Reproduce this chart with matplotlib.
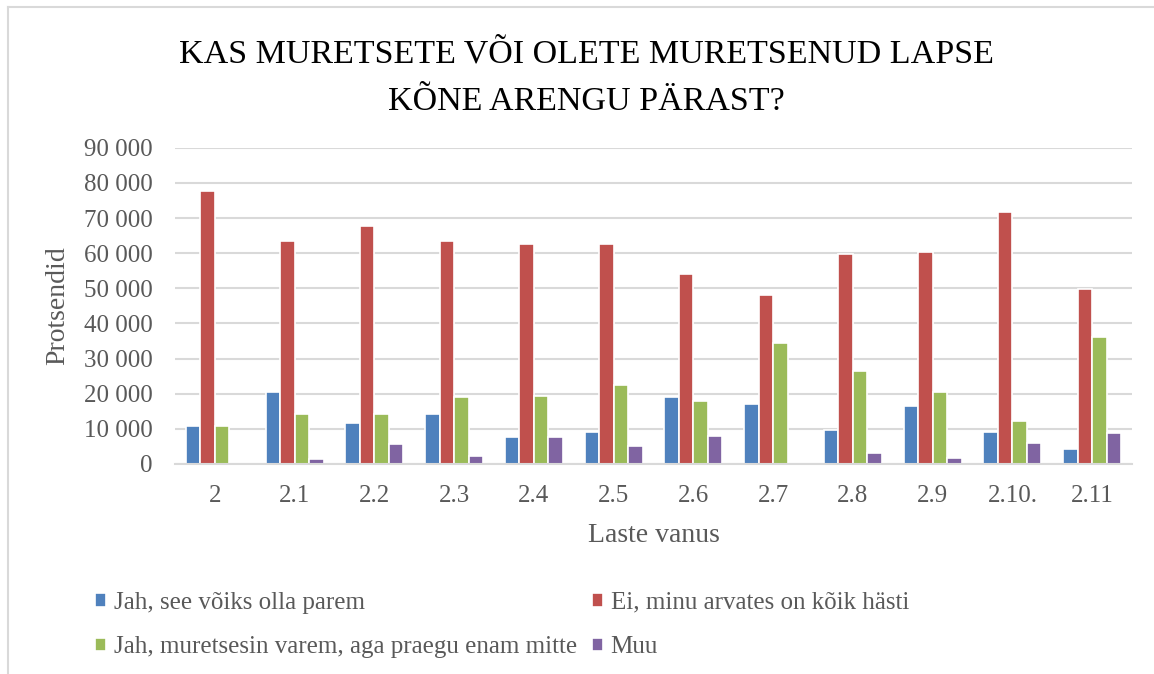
import matplotlib.pyplot as plt
import numpy as np
from matplotlib.lines import Line2D
from matplotlib.ticker import FuncFormatter

plt.rcParams['font.family'] = ['Liberation Serif', 'DejaVu Serif']

categories = ['2', '2.1', '2.2', '2.3', '2.4', '2.5', '2.6', '2.7', '2.8', '2.9', '2.10.', '2.11']
jah_parem = [10900, 20400, 11700, 14100, 7600, 9000, 19200, 17000, 9800, 16500, 9100, 4300]
ei_hasti = [77600, 63400, 67700, 63500, 62700, 62600, 54000, 48100, 59800, 60300, 71800, 49800]
jah_varem = [10900, 14300, 14100, 19200, 19300, 22400, 17800, 34400, 26500, 20600, 12300, 36100]
muu = [0, 1300, 5700, 2400, 7700, 5200, 8100, 0, 3000, 1800, 6100, 8900]

series = [
    ('Jah, see võiks olla parem', jah_parem, '#4F81BD'),
    ('Ei, minu arvates on kõik hästi', ei_hasti, '#C0504D'),
    ('Jah, muretsesin varem, aga praegu enam mitte', jah_varem, '#9BBB59'),
    ('Muu', muu, '#8064A2'),
]

fig = plt.figure(figsize=(11.54, 6.74), dpi=100)
ax = fig.add_axes([0.1516, 0.3116, 0.8294, 0.469])

x = np.arange(len(categories))
step = 0.182
bars = []
for i, (name, vals, col) in enumerate(series):
    b = ax.bar(x + (i - 1.5) * step, vals, width=step, color=col,
               edgecolor='white', linewidth=1.2, label=name, zorder=3)
    bars.append(b)

ax.set_xlim(-0.5, len(categories) - 0.5)
ax.set_ylim(0, 90000)
ax.set_yticks(np.arange(0, 90001, 10000))
ax.yaxis.set_major_formatter(FuncFormatter(lambda v, p: f"{int(v):,}".replace(',', ' ')))
ax.set_xticks(x)
ax.set_xticklabels(categories)
ax.grid(axis='y', color='#D9D9D9', linewidth=1.5, zorder=0)
for s in ['top', 'right', 'left']:
    ax.spines[s].set_visible(False)
ax.spines['bottom'].set_color('#D9D9D9')
ax.spines['bottom'].set_linewidth(1.5)
ax.spines['bottom'].set_zorder(4)
ax.tick_params(axis='both', length=0, labelsize=18, colors='#595959')
ax.tick_params(axis='y', pad=16)
ax.tick_params(axis='x', pad=15)

ax.set_xlabel('Laste vanus', fontsize=20, color='#595959', labelpad=12)
ax.set_ylabel('Protsendid', fontsize=20, color='#595959', labelpad=10)

fig.text(0.508, 0.884, 'KAS MURETSETE VÕI OLETE MURETSENUD LAPSE\nKÕNE ARENGU PÄRAST?',
         ha='center', va='center', fontsize=24.5, color='#000000', linespacing=1.7)

# legend fills column by column, so reorder to get Excel's row order
order = [0, 2, 1, 3]
fig.legend([bars[i] for i in order], [series[i][0] for i in order],
           loc='center left', bbox_to_anchor=(95 / 1154, 1 - 625 / 674), ncol=2,
           frameon=False, fontsize=18, handlelength=0.45, handleheight=0.45,
           handletextpad=0.3, columnspacing=0.6, labelspacing=0.9,
           borderpad=0, borderaxespad=0, labelcolor='#595959')

fig.add_artist(Line2D([8 / 1154, 1], [1 - 7 / 674, 1 - 7 / 674], color='#D9D9D9', linewidth=1.5))
fig.add_artist(Line2D([8 / 1154, 8 / 1154], [0, 1 - 7 / 674], color='#D9D9D9', linewidth=1.5))

fig.savefig('out.png', dpi=100)
